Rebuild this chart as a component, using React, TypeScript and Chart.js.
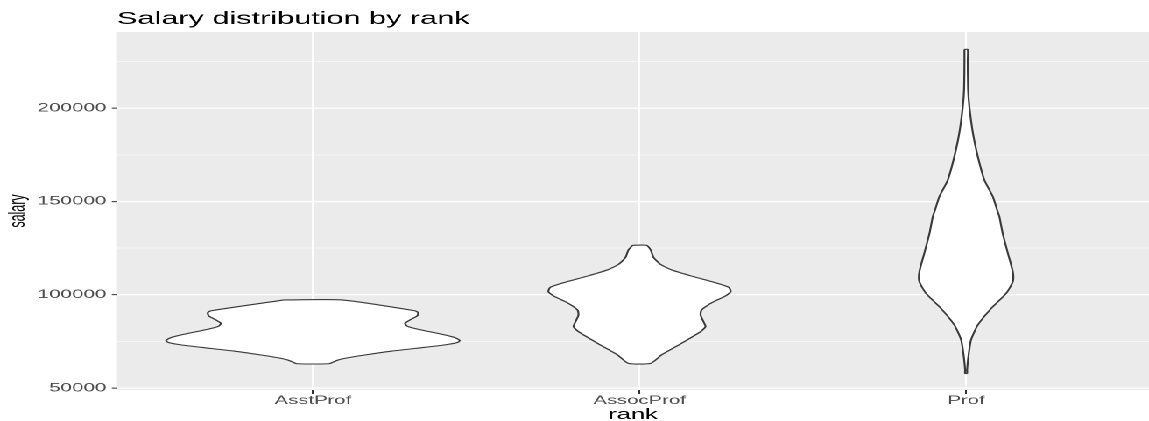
import React, { useEffect, useRef } from "react";
import { Chart, registerables } from "chart.js";

Chart.register(...registerables);

// ---------- data ----------
const ranks = ["AsstProf", "AssocProf", "Prof"];

// violin outlines: salary levels (top -> bottom) and half-widths in category units
const asstProfSalary = [97200, 91400, 90400, 88600, 86500, 84700, 83200, 82300, 80700, 78800, 77000, 75400, 74300, 73100, 71800, 69800, 67700, 66200, 65000, 63600, 63000];
const asstProfHalfWidth = [0.089, 0.312, 0.322, 0.319, 0.297, 0.282, 0.288, 0.303, 0.343, 0.395, 0.435, 0.45, 0.441, 0.404, 0.343, 0.242, 0.159, 0.107, 0.077, 0.058, 0.049];

const assocProfSalary = [126500, 124000, 120000, 116300, 113300, 110000, 106400, 104000, 101600, 99300, 95700, 91800, 89100, 85500, 82900, 80200, 74000, 67700, 63200];
const assocProfHalfWidth = [0.021, 0.034, 0.043, 0.064, 0.098, 0.159, 0.233, 0.273, 0.279, 0.263, 0.221, 0.19, 0.187, 0.196, 0.202, 0.187, 0.129, 0.067, 0.034];

const profSalary = [231500, 225800, 210600, 200800, 186500, 174000, 161500, 152500, 145400, 141800, 132900, 122200, 112300, 107000, 100800, 92700, 83800, 75700, 66800, 59700, 57800];
const profHalfWidth = [0.005, 0.005, 0.006, 0.01, 0.021, 0.036, 0.056, 0.082, 0.095, 0.102, 0.112, 0.128, 0.143, 0.143, 0.123, 0.077, 0.036, 0.015, 0.007, 0.003, 0.003];

const yMajorTicks = [50000, 100000, 150000, 200000];
const yMinorTicks = [75000, 125000, 175000, 225000];
const yMin = 48930;
const yMax = 240800;
const xMin = -0.6;
const xMax = 2.56;

// ---------- layout ----------
const OUT_W = 1149;
const OUT_H = 421;
const INNER_W = 656;
const SX = OUT_W / INNER_W;

function outline(center: number, salary: number[], hw: number[]) {
  const left = salary.map((s, i) => ({ x: center - hw[i], y: s }));
  const right = salary.map((s, i) => ({ x: center + hw[i], y: s })).reverse();
  return [...left, ...right, left[0]];
}

const panelBg = {
  id: "panelBg",
  beforeDraw(chart: any) {
    const { ctx, chartArea } = chart;
    if (!chartArea) return;
    ctx.save();
    ctx.fillStyle = "#EBEBEB";
    ctx.fillRect(chartArea.left, chartArea.top, chartArea.right - chartArea.left, chartArea.bottom - chartArea.top);
    ctx.restore();
  },
};

export default function App() {
  const ref = useRef<HTMLCanvasElement>(null);

  useEffect(() => {
    document.body.style.overflow = "hidden";
    const violins = [
      outline(0, asstProfSalary, asstProfHalfWidth),
      outline(1, assocProfSalary, assocProfHalfWidth),
      outline(2, profSalary, profHalfWidth),
    ];
    const isMajor = (v: number) => yMajorTicks.includes(v);
    const chart = new Chart(ref.current as HTMLCanvasElement, {
      type: "line",
      data: {
        datasets: violins.map((pts, i) => ({
          label: ranks[i],
          data: pts,
          fill: "shape",
          backgroundColor: "#FFFFFF",
          borderColor: "#3A3A3A",
          borderWidth: 1.1,
          tension: 0.2,
          pointRadius: 0,
          pointHitRadius: 0,
        })),
      },
      plugins: [panelBg],
      options: {
        animation: false,
        responsive: false,
        devicePixelRatio: 2,
        events: [],
        layout: { padding: 0 },
        plugins: {
          legend: { display: false },
          tooltip: { enabled: false },
          title: {
            display: true,
            text: "Salary distribution by rank",
            align: "start",
            fullSize: false,
            color: "#000000",
            font: { family: "'Liberation Sans', Arial, sans-serif", size: 17.5, weight: "normal" },
            padding: { top: 8.5, bottom: 2.5 },
          },
        },
        scales: {
          x: {
            type: "linear",
            min: xMin,
            max: xMax,
            afterFit: (scale: any) => {
              scale.height = OUT_H - 390;
            },
            afterBuildTicks: (scale: any) => {
              scale.ticks = ranks.map((_, i) => ({ value: i }));
            },
            border: { display: false },
            grid: {
              color: "#FFFFFF",
              lineWidth: 1,
              drawTicks: true,
              tickLength: 4,
              tickColor: "#333333",
              tickWidth: 1,
            },
            ticks: {
              autoSkip: false,
              maxRotation: 0,
              padding: 0,
              color: "#4D4D4D",
              font: { family: "'Liberation Sans', Arial, sans-serif", size: 11.6 },
              callback: (v: any) => ranks[Math.round(Number(v))] ?? "",
            },
            title: {
              display: true,
              text: "rank",
              color: "#000000",
              font: { family: "'Liberation Sans', Arial, sans-serif", size: 14.5, lineHeight: 1 },
              padding: { top: 0, bottom: -1 },
            },
          },
          y: {
            type: "linear",
            min: yMin,
            max: yMax,
            afterFit: (scale: any) => {
              scale.width = 117 / SX;
            },
            afterBuildTicks: (scale: any) => {
              scale.ticks = [...yMajorTicks, ...yMinorTicks].sort((a, b) => a - b).map((v) => ({ value: v }));
            },
            border: { display: false },
            grid: {
              color: "#FFFFFF",
              lineWidth: (ctx: any) => (ctx.tick && isMajor(ctx.tick.value) ? 1.3 : 0.6),
              drawTicks: true,
              tickLength: 3,
              tickColor: (ctx: any) => (ctx.tick && isMajor(ctx.tick.value) ? "#333333" : "rgba(0,0,0,0)"),
              tickWidth: 1,
            },
            ticks: {
              autoSkip: false,
              padding: 3,
              color: "#4D4D4D",
              font: { family: "'Liberation Sans', Arial, sans-serif", size: 11.8 },
              callback: (v: any) => (isMajor(Number(v)) ? String(v) : ""),
            },
            title: {
              display: true,
              text: "salary",
              color: "#000000",
              font: { family: "'Liberation Sans', Arial, sans-serif", size: 12.5 },
              padding: { top: 3, bottom: 0 },
            },
          },
        },
      } as any,
    });
    return () => chart.destroy();
  }, []);

  return (
    <div
      style={{
        position: "absolute",
        left: 0,
        top: 0,
        width: INNER_W,
        height: OUT_H,
        transform: `scaleX(${SX})`,
        transformOrigin: "0 0",
        background: "#FFFFFF",
      }}
    >
      <canvas ref={ref} width={INNER_W} height={OUT_H} />
    </div>
  );
}
